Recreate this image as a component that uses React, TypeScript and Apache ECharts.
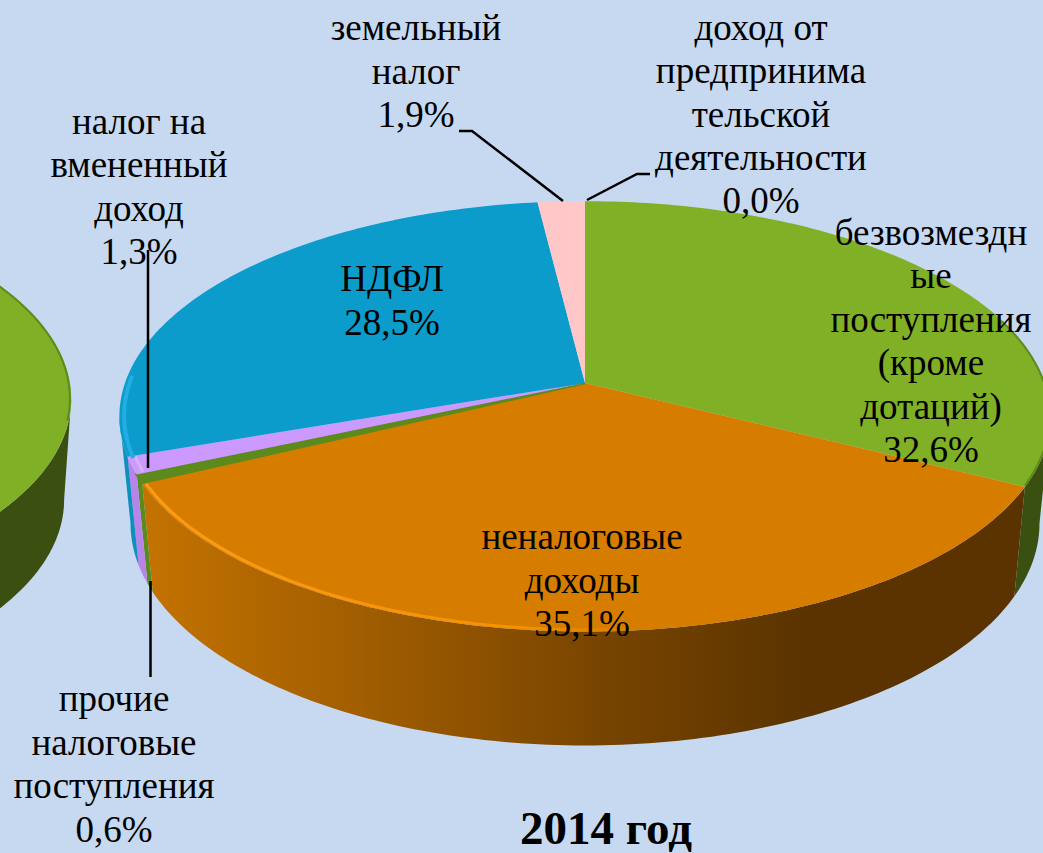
import React, { useEffect, useRef } from "react";
import * as echarts from "echarts";

const categories = [
  "безвозмездн\nые\nпоступления\n(кроме\nдотаций)",
  "неналоговые\nдоходы",
  "прочие\nналоговые\nпоступления",
  "налог на\nвмененный\nдоход",
  "НДФЛ",
  "земельный\nналог",
  "доход от\nпредпринима\nтельской\nдеятельности",
];
const values = [32.6, 35.1, 0.6, 1.3, 28.5, 1.9, 0.0];
const topColors = ["#80b026", "#d67d00", "#5c8a1c", "#cc99ff", "#0b9ccb", "#ffc7c7", "#a6a6a6"];
const previousPieValues = [100];
const title = "2014 год";

const labelAnchors: [number, number][] = [
  [931, 341], [582, 580], [114, 764], [139, 186.5], [392, 300.5], [416, 71], [761, 114],
];

const K = 0.155;
const mainGeom = { cx: 585, top: { B: 460, A: 210, cy: 383 }, bot: { B: 449, A: 216.7, cy: 489 } };
const prevGeom = { cx: -359, top: { B: 425, A: 200, cy: 367 }, bot: { B: 418, A: 200, cy: 468 } };

const LG = (x1: number, x2: number, stops: [number, string][]) =>
  new (echarts.graphic as any).LinearGradient(x1, 0, x2, 0,
    stops.map(([offset, color]) => ({ offset, color })), true);

const project = (g: any, f: any, deg: number, r = 1): [number, number] => {
  const a = (deg * Math.PI) / 180;
  const u = Math.sin(a) * r, v = -Math.cos(a) * r;
  const d = 1 - K * v;
  return [g.cx + (f.B * u) / d, f.cy + (f.A * v) / d];
};

const arc = (g: any, f: any, a0: number, a1: number, r = 1) => {
  const n = Math.max(2, Math.ceil(Math.abs(a1 - a0)));
  const out: [number, number][] = [];
  for (let i = 0; i <= n; i++) out.push(project(g, f, a0 + ((a1 - a0) * i) / n, r));
  return out;
};

const spans = (vals: number[]) => {
  const total = vals.reduce((s, v) => s + v, 0);
  let acc = 0;
  return vals.map((v) => {
    const a0 = (acc / total) * 360;
    acc += v;
    return [a0, (acc / total) * 360];
  });
};

const mainSpans = spans(values);
const prevSpans = spans(previousPieValues);

const sideFill = [
  "#3a5010",
  LG(140, 1030, [[0, "#c47300"], [0.3, "#9a5900"], [0.5, "#7a4600"], [0.75, "#5a3300"], [1, "#5a3300"]]),
  "#5c8a1c",
  "#b784ea",
  "#0e8fbc",
  "#b48a8a",
  "#808080",
];

// the wall that faces the viewer runs between the two silhouette tangents
const FRONT_FROM = 98.9;
const FRONT_TO = 261.1;

const sideSeries = (g: any, sp: number[][], fills: any[]) => ({
  type: "custom",
  coordinateSystem: "none",
  silent: true,
  z: 1,
  data: sp.map((_, i) => [i]),
  renderItem: (params: any) => {
    const [s0, s1] = sp[params.dataIndex];
    const a0 = Math.max(s0, FRONT_FROM);
    const a1 = Math.min(s1, FRONT_TO);
    if (a1 - a0 <= 0) return { type: "group", children: [] };
    const pts = [...arc(g, g.top, a0, a1), ...arc(g, g.bot, a1, a0)];
    return { type: "polygon", shape: { points: pts }, style: { fill: fills[params.dataIndex] } };
  },
});

const rims: Record<number, any> = {
  0: { color: "#5f8a1c", width: 2, r: 0.998, from: 72, to: 117 },
  1: { color: LG(140, 1030, [[0, "#ff9c14"], [0.42, "#f59200"], [0.56, "#d67d00"], [1, "#d67d00"]]), width: 3, r: 0.994 },
  3: { color: "#dcb0ff", width: 3, r: 0.985 },
  4: { color: "#22aee2", width: 4, r: 0.99, from: 250, to: 272 },
};

const topSeries = (g: any, sp: number[][], colors: string[], useRims: boolean) => ({
  type: "custom",
  coordinateSystem: "none",
  silent: true,
  z: 2,
  data: sp.map((_, i) => [i]),
  renderItem: (params: any) => {
    const i = params.dataIndex;
    const [a0, a1] = sp[i];
    if (a1 - a0 <= 0) return { type: "group", children: [] };
    const thin = a1 - a0 < 3;
    const children: any[] = [{
      type: "polygon",
      shape: { points: [[g.cx, g.top.cy], ...arc(g, g.top, a0, a1)] },
      style: { fill: colors[i], stroke: i === 2 && useRims ? colors[i] : undefined, lineWidth: i === 2 && useRims ? 2.5 : 0 },
    }];
    if (useRims && rims[i]) {
      const rim = rims[i];
      children.push({
        type: "polyline",
        shape: { points: arc(g, g.top, rim.from ?? a0 + (thin ? 0.1 : 0.3), rim.to ?? a1 - (thin ? 0.1 : 0.3), rim.r) },
        style: { stroke: rim.color, lineWidth: rim.width, fill: null },
      });
    }
    if (!useRims) {
      children.push({
        type: "polyline",
        shape: { points: arc(g, g.top, 55, 105, 0.997) },
        style: { stroke: "#5f8a1c", lineWidth: 2, fill: null },
      });
    }
    return { type: "group", children };
  },
});

const leaderLines: [number, number][][] = [
  [[459, 131], [472, 131], [563, 201]],
  [[587, 200], [637, 174], [650, 174]],
  [[148, 250], [148, 468]],
  [[150.5, 581], [150.5, 677]],
];

const FONT = '"Liberation Serif", "Times New Roman", serif';

export default function App() {
  const ref = useRef<HTMLDivElement>(null);
  useEffect(() => {
    if (!ref.current) return;
    const chart = echarts.init(ref.current, undefined, { renderer: "svg" });
    const labels = categories.map((c, i) => ({
      type: "text",
      x: labelAnchors[i][0],
      y: labelAnchors[i][1],
      z: 10,
      style: {
        text: `${c}\n${values[i].toFixed(1).replace(".", ",")}%`,
        font: `37px ${FONT}`,
        lineHeight: 43.4,
        fill: "#000",
        align: "center",
        verticalAlign: "middle",
      },
    }));
    const lines = leaderLines.map((points) => ({
      type: "polyline",
      z: 9,
      shape: { points },
      style: { stroke: "#000", lineWidth: 2.5, fill: null },
    }));
    chart.setOption({
      animation: false,
      backgroundColor: "#c6d9f1",
      series: [
        sideSeries(prevGeom, prevSpans, ["#3a4f10"]),
        topSeries(prevGeom, prevSpans, ["#80b026"], false),
        sideSeries(mainGeom, mainSpans, sideFill),
        topSeries(mainGeom, mainSpans, topColors, true),
      ],
      graphic: [
        ...lines,
        ...labels,
        {
          type: "text",
          x: 606,
          y: 828,
          z: 10,
          style: {
            text: title,
            font: `bold 47px ${FONT}`,
            lineHeight: 44,
            fill: "#000",
            align: "center",
            verticalAlign: "middle",
          },
        },
      ],
    });
    return () => chart.dispose();
  }, []);
  return <div ref={ref} style={{ position: "fixed", left: 0, top: 0, width: 1043, height: 853 }} />;
}
